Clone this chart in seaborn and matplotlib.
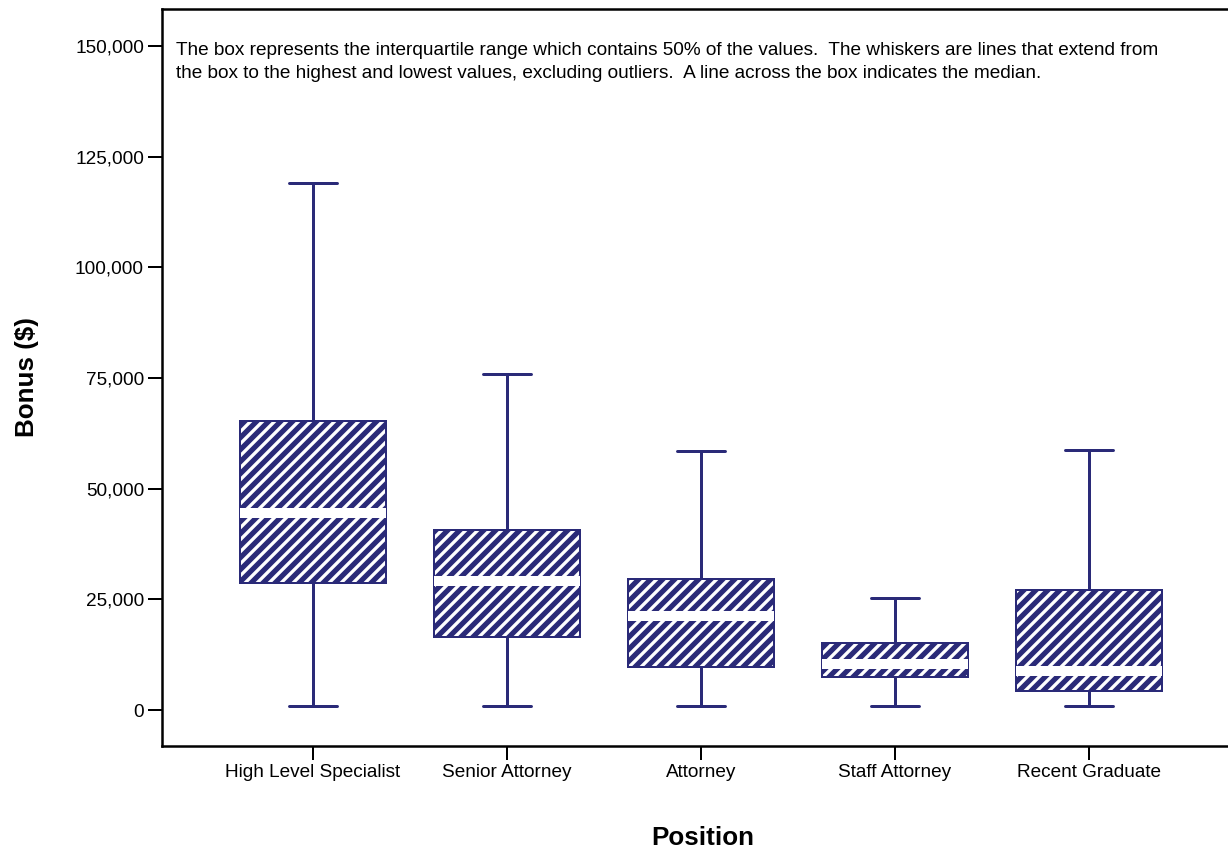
import numpy as np
import pandas as pd
import matplotlib
matplotlib.use('Agg')
import matplotlib.pyplot as plt
import seaborn as sns
from matplotlib.patches import PathPatch
from matplotlib.ticker import FuncFormatter

positions = ['High Level Specialist', 'Senior Attorney', 'Attorney', 'Staff Attorney', 'Recent Graduate']

# five-number summaries: low whisker, q1, median, q3, high whisker
low_whisker = [900, 900, 900, 900, 800]
q1 = [28700, 16600, 9800, 7500, 4400]
median = [44500, 29100, 21200, 10500, 8700]
q3 = [65200, 40700, 29600, 15100, 27100]
high_whisker = [119100, 75900, 58600, 25300, 58800]

yticks = [0, 25000, 50000, 75000, 100000, 125000, 150000]

note = ("The box represents the interquartile range which contains 50% of the values.  "
        "The whiskers are lines that extend from\n"
        "the box to the highest and lowest values, excluding outliers.  "
        "A line across the box indicates the median.")

navy = '#2a2a78'


def build_frame():
    rows = []
    for i, pos in enumerate(positions):
        for v in (low_whisker[i], q1[i], median[i], q3[i], high_whisker[i]):
            rows.append({'Position': pos, 'Bonus': v})
    return pd.DataFrame(rows)


def main():
    sns.set_style('ticks')
    plt.rcParams['font.family'] = ['Liberation Sans', 'DejaVu Sans']
    plt.rcParams['hatch.linewidth'] = 3.3
    plt.rcParams['text.color'] = 'black'
    plt.rcParams['axes.labelcolor'] = 'black'
    plt.rcParams['xtick.color'] = 'black'
    plt.rcParams['ytick.color'] = 'black'

    df = build_frame()

    fig = plt.figure(figsize=(1228 / 72, 852 / 72), dpi=72)
    ax = fig.add_axes([162 / 1228, 106 / 852, 1066 / 1228, 737 / 852])

    sns.boxplot(data=df, x='Position', y='Bonus', order=positions, ax=ax,
                color=navy, saturation=1, width=0.75, whis=(0, 100),
                linewidth=2, linecolor=navy, showfliers=False,
                medianprops=dict(color='white', linewidth=10, solid_capstyle='butt'),
                whiskerprops=dict(color=navy, linewidth=3),
                capprops=dict(color=navy, linewidth=3),
                capwidths=0.25)

    # white diagonal hatch on navy, then a navy outline over it
    for p in list(ax.patches):
        p.set_facecolor(navy)
        p.set_edgecolor('white')
        p.set_linewidth(0)
        p.set_hatch('//')
        outline = PathPatch(p.get_path(), transform=p.get_transform(), fill=False,
                            edgecolor=navy, linewidth=2, zorder=p.get_zorder() + 0.05)
        ax.add_patch(outline)

    ax.set_xlim(-0.778, 4.716)
    ax.set_ylim(-8130, 158360)
    ax.set_yticks(yticks)
    ax.yaxis.set_major_formatter(FuncFormatter(lambda v, _: f'{int(v):,}'))

    ax.tick_params(axis='both', labelsize=19, length=14, width=2, color='black',
                   labelcolor='black', pad=4)
    for side in ['left', 'bottom', 'top']:
        ax.spines[side].set_linewidth(2.5)
        ax.spines[side].set_color('black')
    ax.spines['right'].set_visible(False)

    ax.set_xlabel('Position', fontsize=26, fontweight='bold', color='black')
    ax.xaxis.set_label_coords(0.5075, -0.109)
    ax.set_ylabel('Bonus ($)', fontsize=26, fontweight='bold', labelpad=36, color='black')

    ax.text(0.0131, 0.955, note, transform=ax.transAxes, ha='left', va='top',
            fontsize=19.0, linespacing=1.42, color='black')

    fig.savefig('out.png', dpi=72)
    plt.close(fig)


if __name__ == '__main__':
    main()
